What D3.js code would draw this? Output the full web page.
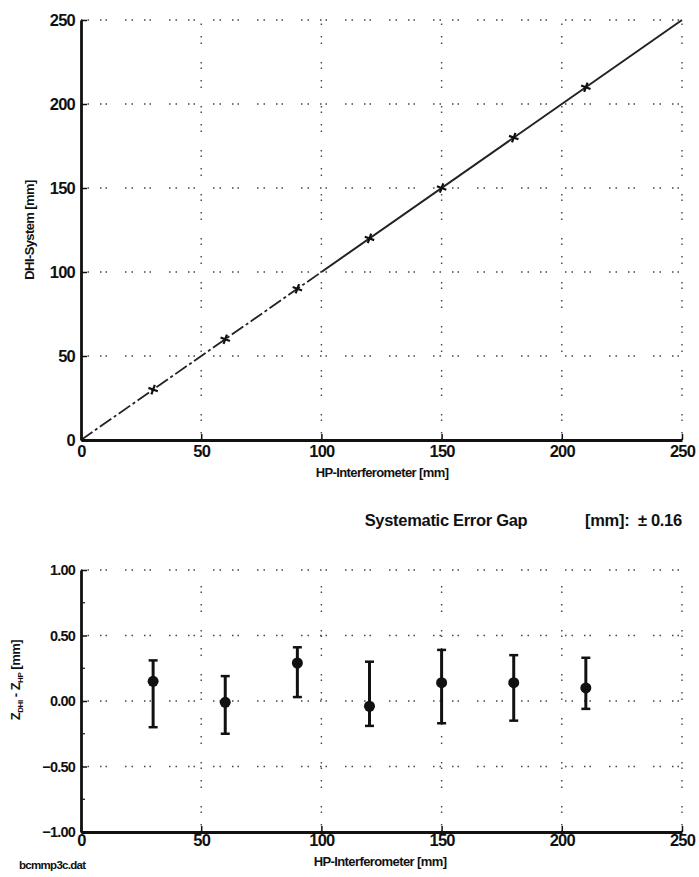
<!DOCTYPE html>
<html>
<head>
<meta charset="utf-8">
<script src="https://cdn.jsdelivr.net/npm/d3@7"></script>
<style>
  body { margin: 0; background: #fff; }
  svg text { font-family: "Liberation Sans", Arial, sans-serif; font-weight: bold; fill: #111; }
</style>
</head>
<body>
<svg id="chart" width="699" height="877"></svg>
<script>
// measurement positions (HP-Interferometer, mm)
const positions = [30, 60, 90, 120, 150, 180, 210];
// DHI system readings (mm)
const dhiValues = [30, 60, 90, 120, 150, 180, 210];
// difference Z_DHI - Z_HP (mm) with error bar limits
const diffMean = [0.15, -0.01, 0.29, -0.04, 0.14, 0.14, 0.10];
const diffHigh = [0.31, 0.19, 0.41, 0.30, 0.39, 0.35, 0.33];
const diffLow = [-0.20, -0.25, 0.03, -0.19, -0.17, -0.15, -0.06];

const xTicks = [0, 50, 100, 150, 200, 250];
const yTicksTop = [0, 50, 100, 150, 200, 250];
const yTicksBottom = [-1, -0.5, 0, 0.5, 1];
const yMinorBottom = [-0.75, -0.25, 0.25, 0.75];

const svg = d3.select("#chart");
const gridDash = "1.5,5,1.5,11,1.5,4,1.5,18";

// ---------- top chart ----------
const x = d3.scaleLinear().domain([0, 250]).range([81, 682]);
const yTop = d3.scaleLinear().domain([0, 250]).range([440, 20]);

const topChart = svg.append("g");

// dotted grid
topChart.selectAll(".vgrid").data(xTicks.slice(1)).enter().append("line")
  .attr("x1", d => x(d)).attr("x2", d => x(d))
  .attr("y1", yTop(0)).attr("y2", yTop(250))
  .attr("stroke", "#444").attr("stroke-width", 1.4).attr("stroke-dasharray", gridDash);
topChart.selectAll(".hgrid").data(yTicksTop.slice(1)).enter().append("line")
  .attr("x1", x(0)).attr("x2", x(250))
  .attr("y1", d => yTop(d)).attr("y2", d => yTop(d))
  .attr("stroke", "#444").attr("stroke-width", 1.4).attr("stroke-dasharray", gridDash);

// identity line: dashed in the lower part, solid above
topChart.append("line")
  .attr("x1", x(0)).attr("y1", yTop(0)).attr("x2", x(100)).attr("y2", yTop(100))
  .attr("stroke", "#222").attr("stroke-width", 1.8).attr("stroke-dasharray", "14,3,3,3");
topChart.append("line")
  .attr("x1", x(100)).attr("y1", yTop(100)).attr("x2", x(250)).attr("y2", yTop(250))
  .attr("stroke", "#222").attr("stroke-width", 2);

// plus markers
topChart.selectAll(".mark").data(positions).enter().append("path")
  .attr("transform", (d, i) => "translate(" + x(d) + "," + yTop(dhiValues[i]) + ") rotate(20)")
  .attr("d", "M-5,0H5M0,-5V5")
  .attr("stroke", "#111").attr("stroke-width", 2.2);

// axes
const xAxisTop = topChart.append("g")
  .attr("transform", "translate(0," + yTop(0) + ")")
  .call(d3.axisBottom(x).tickValues(xTicks).tickSizeInner(-6).tickSizeOuter(0).tickPadding(6));
const yAxisTop = topChart.append("g")
  .attr("transform", "translate(" + x(0) + ",0)")
  .call(d3.axisLeft(yTop).tickValues(yTicksTop).tickSizeInner(-6).tickSizeOuter(0).tickPadding(4));

[xAxisTop, yAxisTop].forEach(g => {
  g.select(".domain").attr("stroke", "#111").attr("stroke-width", 2.8);
  g.selectAll(".tick line").attr("stroke", "#111").attr("stroke-width", 1.5);
  g.selectAll(".tick text").attr("font-size", 16.5).attr("letter-spacing", "-0.8px").attr("fill", "#111");
});
yAxisTop.selectAll(".tick text").attr("dx", "-2");
xAxisTop.selectAll(".tick text").attr("dy", "0.65em");

topChart.append("text")
  .attr("x", 382).attr("y", 477)
  .attr("text-anchor", "middle").attr("font-size", 13).attr("letter-spacing", "-0.6px")
  .text("HP-Interferometer [mm]");
topChart.append("text")
  .attr("transform", "translate(34,230) rotate(-90)")
  .attr("text-anchor", "middle").attr("font-size", 13).attr("letter-spacing", "-0.6px")
  .text("DHI-System [mm]");

// ---------- bottom chart ----------
const yBot = d3.scaleLinear().domain([-1, 1]).range([832, 570]);
const bottomChart = svg.append("g");

bottomChart.append("text")
  .attr("x", 446).attr("y", 526)
  .attr("text-anchor", "middle").attr("font-size", 16.5)
  .style("font-weight", "600").attr("letter-spacing", "-0.3px")
  .text("Systematic Error Gap");
bottomChart.append("text")
  .attr("x", 585).attr("y", 526)
  .attr("font-size", 16.5)
  .style("font-weight", "600").attr("letter-spacing", "-0.3px")
  .attr("xml:space", "preserve")
  .text("[mm]:  ± 0.16");

bottomChart.selectAll(".vgrid").data(xTicks.slice(1)).enter().append("line")
  .attr("x1", d => x(d)).attr("x2", d => x(d))
  .attr("y1", yBot(-1)).attr("y2", yBot(1))
  .attr("stroke", "#444").attr("stroke-width", 1.4).attr("stroke-dasharray", gridDash);
bottomChart.selectAll(".hgrid").data(yTicksBottom.slice(1)).enter().append("line")
  .attr("x1", x(0)).attr("x2", x(250))
  .attr("y1", d => yBot(d)).attr("y2", d => yBot(d))
  .attr("stroke", "#444").attr("stroke-width", 1.4).attr("stroke-dasharray", gridDash);

// error bars
const bars = bottomChart.selectAll(".err").data(positions).enter().append("g");
bars.append("line")
  .attr("x1", d => x(d)).attr("x2", d => x(d))
  .attr("y1", (d, i) => yBot(diffHigh[i])).attr("y2", (d, i) => yBot(diffLow[i]))
  .attr("stroke", "#111").attr("stroke-width", 3);
bars.append("line")
  .attr("x1", d => x(d) - 4.5).attr("x2", d => x(d) + 4.5)
  .attr("y1", (d, i) => yBot(diffHigh[i])).attr("y2", (d, i) => yBot(diffHigh[i]))
  .attr("stroke", "#111").attr("stroke-width", 2.5);
bars.append("line")
  .attr("x1", d => x(d) - 4.5).attr("x2", d => x(d) + 4.5)
  .attr("y1", (d, i) => yBot(diffLow[i])).attr("y2", (d, i) => yBot(diffLow[i]))
  .attr("stroke", "#111").attr("stroke-width", 2.5);
bars.append("circle")
  .attr("cx", d => x(d)).attr("cy", (d, i) => yBot(diffMean[i]))
  .attr("r", 5.5).attr("fill", "#111");

// minor ticks on y
bottomChart.selectAll(".minor").data(yMinorBottom).enter().append("line")
  .attr("x1", x(0)).attr("x2", x(0) + 4)
  .attr("y1", d => yBot(d)).attr("y2", d => yBot(d))
  .attr("stroke", "#111").attr("stroke-width", 1.2);

const xAxisBot = bottomChart.append("g")
  .attr("transform", "translate(0," + yBot(-1) + ")")
  .call(d3.axisBottom(x).tickValues(xTicks).tickSizeInner(-6).tickSizeOuter(0).tickPadding(4));
const yAxisBot = bottomChart.append("g")
  .attr("transform", "translate(" + x(0) + ",0)")
  .call(d3.axisLeft(yBot).tickValues(yTicksBottom).tickFormat(d3.format(".2f"))
    .tickSizeInner(-6).tickSizeOuter(0).tickPadding(4));

[xAxisBot, yAxisBot].forEach(g => {
  g.select(".domain").attr("stroke", "#111").attr("stroke-width", 2.8);
  g.selectAll(".tick line").attr("stroke", "#111").attr("stroke-width", 1.5);
  g.selectAll(".tick text").attr("font-size", 15).attr("letter-spacing", "-0.8px").attr("fill", "#111");
});
yAxisBot.selectAll(".tick text").attr("font-size", 14.5).attr("dx", "-2");
xAxisBot.selectAll(".tick text").attr("font-size", 16.5).attr("dy", "0.6em");

bottomChart.append("text")
  .attr("x", 380).attr("y", 866)
  .attr("text-anchor", "middle").attr("font-size", 13).attr("letter-spacing", "-0.6px")
  .text("HP-Interferometer [mm]");
bottomChart.append("text")
  .attr("x", 19).attr("y", 869)
  .attr("font-size", 11.5).attr("letter-spacing", "-0.7px")
  .text("bcmmp3c.dat");

const yTitle = bottomChart.append("text")
  .attr("transform", "translate(20,680) rotate(-90)")
  .attr("text-anchor", "middle").attr("font-size", 13).attr("letter-spacing", "-0.5px");
yTitle.append("tspan").text("Z");
yTitle.append("tspan").attr("font-size", 8).attr("dy", 3).text("DHI");
yTitle.append("tspan").attr("dy", -3).text(" - Z");
yTitle.append("tspan").attr("font-size", 8).attr("dy", 3).text("HP");
yTitle.append("tspan").attr("dy", -3).text(" [mm]");
</script>
</body>
</html>
